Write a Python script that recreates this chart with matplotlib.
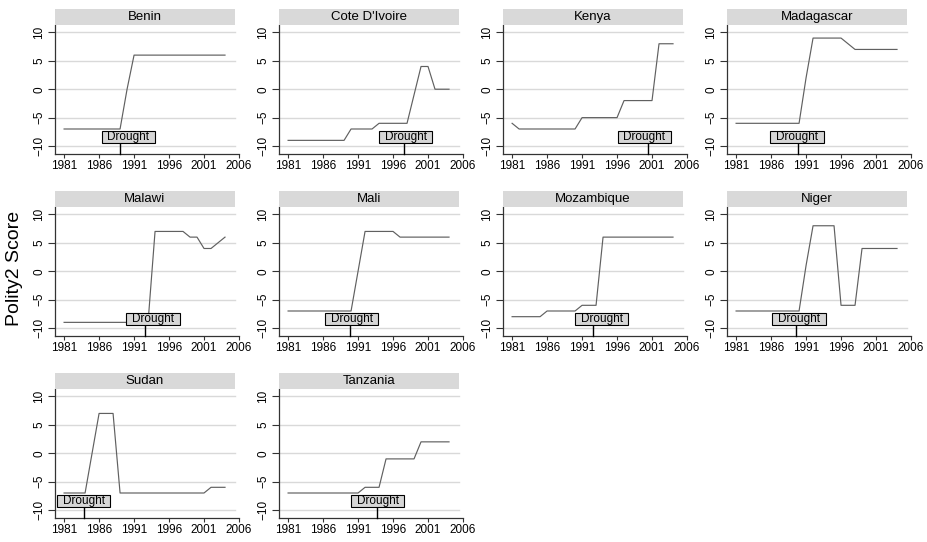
import matplotlib
matplotlib.use("Agg")
import matplotlib.pyplot as plt
from matplotlib.patches import Rectangle

plt.rcParams['font.family'] = ['Liberation Sans', 'DejaVu Sans']

# data
countries = ["Benin", "Cote D'Ivoire", "Kenya", "Madagascar", "Malawi",
             "Mali", "Mozambique", "Niger", "Sudan", "Tanzania"]
years = list(range(1981, 2005))

benin      = [-7, -7, -7, -7, -7, -7, -7, -7, -7, 0, 6, 6, 6, 6, 6, 6, 6, 6, 6, 6, 6, 6, 6, 6]
cote       = [-9, -9, -9, -9, -9, -9, -9, -9, -9, -7, -7, -7, -7, -6, -6, -6, -6, -6, -1, 4, 4, 0, 0, 0]
kenya      = [-6, -7, -7, -7, -7, -7, -7, -7, -7, -7, -5, -5, -5, -5, -5, -5, -2, -2, -2, -2, -2, 8, 8, 8]
madagascar = [-6, -6, -6, -6, -6, -6, -6, -6, -6, -6, 2, 9, 9, 9, 9, 9, 8, 7, 7, 7, 7, 7, 7, 7]
malawi     = [-9, -9, -9, -9, -9, -9, -9, -9, -9, -9, -9, -9, -9, 7, 7, 7, 7, 7, 6, 6, 4, 4, 5, 6]
mali       = [-7, -7, -7, -7, -7, -7, -7, -7, -7, -7, 0, 7, 7, 7, 7, 7, 6, 6, 6, 6, 6, 6, 6, 6]
mozambique = [-8, -8, -8, -8, -8, -7, -7, -7, -7, -7, -6, -6, -6, 6, 6, 6, 6, 6, 6, 6, 6, 6, 6, 6]
niger      = [-7, -7, -7, -7, -7, -7, -7, -7, -7, -7, 1, 8, 8, 8, 8, -6, -6, -6, 4, 4, 4, 4, 4, 4]
sudan      = [-7, -7, -7, -7, 0, 7, 7, 7, -7, -7, -7, -7, -7, -7, -7, -7, -7, -7, -7, -7, -7, -6, -6, -6]
tanzania   = [-7, -7, -7, -7, -7, -7, -7, -7, -7, -7, -7, -6, -6, -6, -1, -1, -1, -1, -1, 2, 2, 2, 2, 2]

scores = [benin, cote, kenya, madagascar, malawi, mali, mozambique, niger, sudan, tanzania]

drought_year = [1989.0, 1997.5, 2000.4, 1989.8, 1992.5, 1989.9, 1992.6, 1989.5, 1983.9, 1993.7]
label_year   = [1990.2, 1997.8, 1999.9, 1989.7, 1993.7, 1990.1, 1993.8, 1990.0, 1983.8, 1993.8]

xticks = [1981, 1986, 1991, 1996, 2001, 2006]
yticks = [-10, -5, 0, 5, 10]

# layout (pixels)
W, H = 928, 542
fig = plt.figure(figsize=(W / 100, H / 100), dpi=100)
fig.patch.set_facecolor('white')

x0, xmax = 1979.7, 2006.0
y0, y1 = -11.4, 11.3
grid_end = (2005.4 - x0) / (xmax - x0)

for i, name in enumerate(countries):
    r, c = i // 4, i % 4
    left = 55 + 224 * c
    top = 25 + 182 * r
    w, h = 184, 129
    ax = fig.add_axes([left / W, 1 - (top + h) / H, w / W, h / H])
    ax.set_xlim(x0, xmax)
    ax.set_ylim(y0, y1)
    ax.patch.set_alpha(0)

    for yv in yticks:
        ax.axhline(yv, xmax=grid_end, color='#d9d9d9', lw=1, zorder=0)

    ax.plot(years, scores[i], color='#606060', lw=0.85, zorder=2)

    # drought marker
    d = drought_year[i]
    ax.plot([d, d], [y0, -9.45], color='black', lw=1, zorder=3, clip_on=False)
    cx = label_year[i]
    ax.add_patch(Rectangle((cx - 3.8, -9.45), 7.6, 2.1, facecolor='#d6d6d6',
                           edgecolor='black', lw=0.8, zorder=4))
    ax.text(cx, -8.35, "Drought", ha='center', va='center', fontsize=8.5, zorder=5)

    for s in ['top', 'right']:
        ax.spines[s].set_visible(False)
    for s in ['left', 'bottom']:
        ax.spines[s].set_color('#333333')
        ax.spines[s].set_linewidth(0.9)

    ax.set_xticks(xticks)
    ax.set_yticks(yticks)
    ax.tick_params(axis='x', length=3, width=0.8, color='#333333', pad=1, labelsize=8.5)
    ax.tick_params(axis='y', length=5, width=0.8, color='#333333', pad=2, labelsize=8.5,
                   labelrotation=90)
    for lab in ax.get_yticklabels():
        lab.set_va('center')

    # strip title
    sax = fig.add_axes([left / W, 1 - top / H, w * grid_end / W, 16.5 / H])
    sax.set_facecolor('#d9d9d9')
    for s in sax.spines.values():
        s.set_visible(False)
    sax.set_xticks([])
    sax.set_yticks([])
    sax.text(0.5, 0.5, name, ha='center', va='center', fontsize=9.5,
             transform=sax.transAxes)

fig.text(15 / W, 1 - 268 / H, "Polity2 Score", rotation=90, ha='center', va='center',
         fontsize=14)

fig.savefig("out.png", dpi=100)
